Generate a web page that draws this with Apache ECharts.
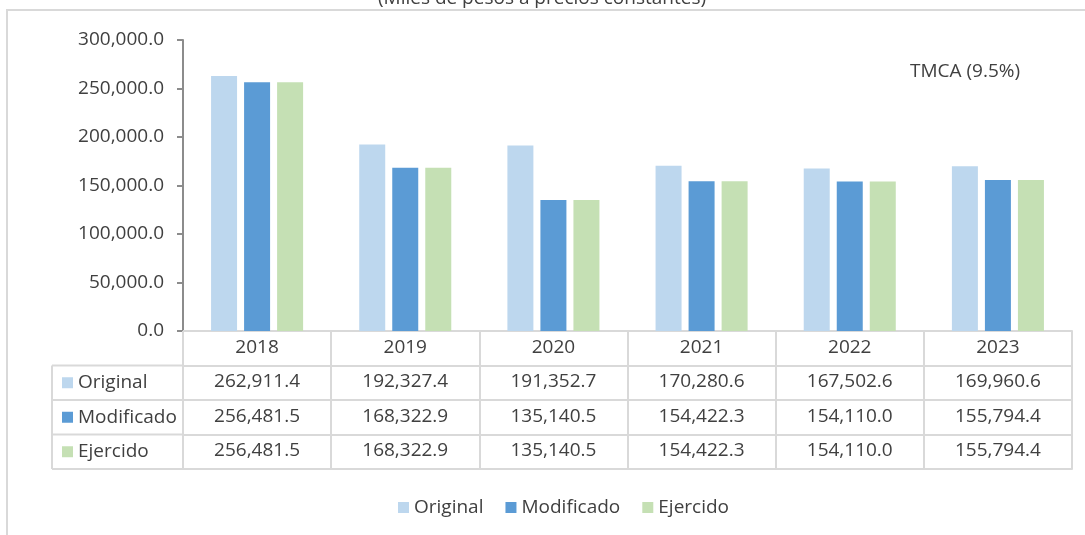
<!DOCTYPE html>
<html>
<head>
<meta charset="utf-8">
<script src="https://cdn.jsdelivr.net/npm/echarts@6/dist/echarts.min.js"></script>
<style>html,body{margin:0;padding:0;background:#fff}#c{width:1085px;height:535px}</style>
</head>
<body>
<div id="c"></div>
<script>
const years = ['2018', '2019', '2020', '2021', '2022', '2023'];
const original = [262911.4, 192327.4, 191352.7, 170280.6, 167502.6, 169960.6];
const modificado = [256481.5, 168322.9, 135140.5, 154422.3, 154110.0, 155794.4];
const ejercido = [256481.5, 168322.9, 135140.5, 154422.3, 154110.0, 155794.4];
const seriesNames = ['Original', 'Modificado', 'Ejercido'];
const yTicks = { min: 0, max: 300000, interval: 50000 };
const subtitle = '(Miles de pesos a precios constantes)';
const note = 'TMCA (9.5%)';

const colors = ['#BDD7EE', '#5B9BD5', '#C5E0B4'];
const seriesData = [original, modificado, ejercido];
const FONT = 'Open Sans';
const FS = 19;
const TXT = '#404040';
const LINE = '#D9D9D9';
const ROW = 34.5;
const gridLeft = 183, gridRight = 13, gridTop = 40, gridBottom = 204;

function fmt(v) {
  return Number(v).toLocaleString('en-US', { minimumFractionDigits: 1, maximumFractionDigits: 1 });
}

const xAxes = [{
  type: 'category', data: years, position: 'bottom', offset: 0,
  axisLine: { lineStyle: { color: LINE, width: 2 } },
  axisTick: { show: true, interval: 0, length: ROW, lineStyle: { color: LINE, width: 2 } },
  axisLabel: { interval: 0, margin: 7, color: TXT, fontFamily: FONT, fontSize: FS }
}];
seriesData.forEach((arr, i) => {
  xAxes.push({
    type: 'category', data: years, position: 'bottom', offset: ROW * (i + 1),
    name: '{sq|}{t|' + seriesNames[i] + '}',
    nameLocation: 'start', nameGap: 121,
    nameTextStyle: {
      align: 'left', verticalAlign: 'top', lineHeight: ROW,
      rich: {
        sq: { width: 11, height: 11, backgroundColor: colors[i], lineHeight: ROW },
        t: { padding: [0, 0, 0, 5], fontFamily: FONT, fontSize: FS, color: TXT, lineHeight: ROW }
      }
    },
    axisLine: { lineStyle: { color: LINE, width: 2 } },
    axisTick: { show: true, interval: 0, length: ROW, lineStyle: { color: LINE, width: 2 } },
    axisLabel: {
      interval: 0, margin: 7, color: TXT, fontFamily: FONT, fontSize: FS,
      formatter: (v, idx) => fmt(arr[idx])
    }
  });
});
xAxes.push({
  type: 'category', data: years, position: 'bottom', offset: ROW * 4,
  axisLine: { lineStyle: { color: LINE, width: 2 } },
  axisTick: { show: false }, axisLabel: { show: false }
});

const chartH = 535;
const axisY = chartH - gridBottom;
const tableLeft = 52;
const leftLines = [];
for (let r = 1; r <= 4; r++) {
  leftLines.push({
    type: 'line', silent: true,
    shape: { x1: tableLeft, y1: axisY + ROW * r, x2: gridLeft, y2: axisY + ROW * r },
    style: { stroke: LINE, lineWidth: 2 }
  });
}
leftLines.push({
  type: 'line', silent: true,
  shape: { x1: tableLeft, y1: axisY + ROW, x2: tableLeft, y2: axisY + ROW * 4 },
  style: { stroke: LINE, lineWidth: 2 }
});

const option = {
  animation: false,
  textStyle: { fontFamily: FONT },
  grid: { left: gridLeft, right: gridRight, top: gridTop, bottom: gridBottom, containLabel: false },
  legend: {
    data: seriesNames, top: 493, left: 393,
    icon: 'rect', itemWidth: 11, itemHeight: 11, itemGap: 22,
    textStyle: { color: TXT, fontFamily: FONT, fontSize: FS }
  },
  xAxis: xAxes,
  yAxis: {
    type: 'value', min: yTicks.min, max: yTicks.max, interval: yTicks.interval,
    axisLine: { show: true, lineStyle: { color: '#8C8C8C', width: 2 } },
    axisTick: { show: true, length: 6, lineStyle: { color: '#8C8C8C', width: 2 } },
    splitLine: { show: false },
    axisLabel: { margin: 19, color: TXT, fontFamily: FONT, fontSize: FS, formatter: v => fmt(v) }
  },
  series: seriesData.map((arr, i) => ({
    name: seriesNames[i], type: 'bar', data: arr, xAxisIndex: 0,
    barWidth: 26, barGap: '27%',
    itemStyle: { color: colors[i] }
  })),
  graphic: [
    {
      type: 'rect', silent: true, z: -1,
      shape: { x: 7, y: 10, width: 1200, height: 700 },
      style: { fill: 'none', stroke: LINE, lineWidth: 2 }
    },
    {
      type: 'text', silent: true, x: 542, y: -1,
      style: { text: subtitle, fill: TXT, font: FS + 'px "Open Sans"', textAlign: 'center', textVerticalAlign: 'middle' }
    },
    {
      type: 'text', silent: true, x: 910, y: 72,
      style: { text: note, fill: TXT, font: FS + 'px "Open Sans"', textAlign: 'left', textVerticalAlign: 'middle' }
    }
  ].concat(leftLines)
};

const chart = echarts.init(document.getElementById('c'), null, { renderer: 'canvas' });
chart.setOption(option);
</script>
</body>
</html>
